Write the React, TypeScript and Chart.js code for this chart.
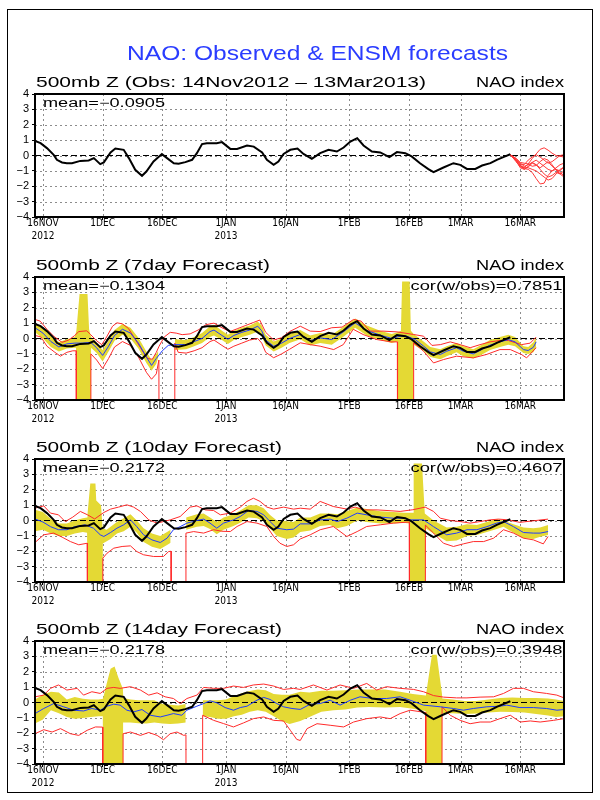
import React, { useEffect, useRef } from 'react';
import { Chart, registerables } from 'chart.js';

Chart.register(...registerables);

type Pt = [number, number | null];

// ---------- axis labels ----------
const tickDays = [2, 17, 32, 48, 63, 79, 94, 107, 122];
const tickNames = ['16NOV', '1DEC', '16DEC', '1JAN', '16JAN', '1FEB', '16FEB', '1MAR', '16MAR'];
const tickYears = ['2012', '', '', '2013', '', '', '', '', ''];

// ---------- observed NAO (day 0 = 14 Nov 2012) ----------
const obsNAO: Pt[] = [[0,0.95],[1.4,0.8],[3,0.48],[4.7,0.04],[5.5,-0.28],[6.8,-0.45],[8,-0.5],[9.3,-0.5],[11.4,-0.35],[13.5,-0.32],[14.8,-0.17],[16.4,-0.56],[17.3,-0.45],[19,0.2],[20.2,0.45],[22.3,0.37],[23.6,-0.17],[25.2,-0.93],[26.9,-1.32],[28,-1.04],[29.8,-0.39],[31.9,0.09],[33.2,-0.17],[34.9,-0.5],[36.1,-0.54],[37.8,-0.43],[39.5,-0.28],[40.7,0.15],[42,0.74],[43.2,0.8],[45.7,0.8],[47,0.87],[49.1,0.43],[50.8,0.43],[53.3,0.65],[55,0.58],[57.1,0.2],[58.3,-0.28],[60,-0.6],[61.2,-0.39],[62.5,0.1],[64.2,0.37],[66,0.45],[67.5,0.1],[69.6,-0.22],[71.7,0.15],[73.8,0.37],[75.9,0.26],[77.6,0.52],[79.3,0.91],[81,1.13],[82.6,0.65],[84.7,0.26],[86.8,0.2],[89.1,-0.1],[91,0.22],[93.1,0.15],[94.7,-0.06],[96.8,-0.5],[98.9,-0.89],[100.2,-1.08],[102.7,-0.78],[105.2,-0.5],[106.9,-0.61],[108.6,-0.87],[110.7,-0.87],[112.4,-0.65],[114.5,-0.5],[116.1,-0.28],[118.2,-0.06],[119.5,0.08]];

const zeroLine: Pt[] = [[0, 0], [133, 0]];

// ---------- ensemble members after 13 Mar ----------
const ensDays = [119.5, 121, 122, 123, 124, 125, 126, 127, 128, 129, 130, 131, 132, 133];
const ens1 = [0.05, -0.4, -0.75, -0.8, -0.55, -0.2, 0.1, 0.4, 0.5, 0.35, 0.15, 0.0, -0.05, -0.1];
const ens2 = [0.05, -0.3, -0.6, -0.85, -0.9, -1.1, -1.5, -1.85, -1.8, -1.3, -1.0, -0.9, -1.1, -1.3];
const ens3 = [0.05, -0.2, -0.5, -0.7, -0.6, -0.45, -0.3, -0.5, -0.7, -0.9, -1.0, -0.8, -0.6, -0.5];
const ens4 = [0.05, -0.35, -0.8, -0.9, -0.75, -0.5, -0.6, -0.9, -1.2, -1.4, -1.3, -1.1, -1.2, -1.4];
const ens5 = [0.05, -0.25, -0.55, -0.6, -0.3, -0.1, 0.05, -0.1, -0.3, -0.5, -0.4, -0.2, 0.0, 0.05];
const ens6 = [0.05, -0.4, -0.7, -0.75, -0.8, -0.9, -1.0, -1.2, -1.4, -1.6, -1.5, -1.2, -0.9, -0.8];
const ens7 = [0.05, -0.3, -0.65, -0.9, -0.7, -0.45, -0.6, -0.8, -0.6, -0.4, -0.7, -0.9, -1.0, -0.7];
const ens8 = [0.05, -0.2, -0.45, -0.5, -0.55, -0.7, -0.65, -0.4, -0.2, -0.3, -0.6, -0.95, -1.2, -1.0];

// ---------- 7-day forecast ----------
const p2Mean: Pt[] = [[0,0.7],[2,0.35],[4,-0.2],[6,-0.55],[8,-0.35],[10,-0.3],[12,-0.3],[14,-0.25],[15.5,-0.6],[17,-1.1],[18.5,-0.5],[20,0.2],[22,0.6],[24,0.35],[26,-0.3],[28,-1.2],[29.3,-1.75],[30.5,-1.3],[32,-0.8],[33.5,-0.45],[35,-0.4],[38,-0.4],[40,-0.2],[42,0.0],[44,0.45],[45,0.55],[47,0.2],[48.5,-0.05],[50,0.2],[52,0.4],[54,0.55],[56,0.8],[57,0.5],[58,-0.1],[60,-0.5],[62,-0.3],[64,0.0],[66.7,0.26],[69.2,-0.13],[71.7,0.04],[74.6,-0.07],[77.2,0.37],[80.5,1.02],[83.4,0.52],[86.8,0.22],[89.7,0.0],[91.8,0.15],[93.5,0.15],[95.6,-0.07],[97.7,-0.5],[99.4,-0.87],[101.9,-1.04],[103.5,-0.83],[106,-0.6],[107.7,-0.83],[110.2,-1.0],[112.3,-0.72],[114.4,-0.43],[116.9,-0.22],[119,-0.07],[120.7,-0.22],[122.8,-0.72],[124,-0.78],[125.3,-0.57],[126,-0.22]];
const p2BandHi: Pt[] = [[0,1.0],[2,0.7],[4,0.15],[6,-0.25],[8,-0.05],[10,0.1],[10.4,0.5],[11.2,2.9],[13.2,2.9],[13.6,0.6],[14.1,0.1],[15.5,-0.3],[17,-0.75],[18.5,-0.15],[20,0.55],[22,0.95],[24,0.7],[26,0.05],[28,-0.85],[29.3,-1.4],[30.5,-1.0],[31,-0.8],[31.05,null],[35.1,null],[35.15,-0.05],[38,-0.1],[40,0.1],[42,0.35],[44,0.8],[45,0.9],[47,0.5],[48.5,0.25],[50,0.5],[52,0.7],[54,0.85],[56,1.1],[57,0.85],[58,0.25],[60,-0.2],[62,0.0],[64,0.3],[66.7,0.55],[69.2,0.2],[71.7,0.35],[74.6,0.25],[77.2,0.7],[80.5,1.3],[83.4,0.85],[86.8,0.5],[89.7,0.3],[91.1,0.4],[92,0.5],[92.3,3.7],[94.2,3.7],[94.5,0.5],[95.2,0.3],[97.7,-0.2],[99.4,-0.55],[101.9,-0.7],[103.5,-0.5],[106,-0.3],[107.7,-0.5],[110.2,-0.7],[112.3,-0.4],[114.4,-0.1],[116.9,0.1],[119,0.25],[120.7,0.1],[122.8,-0.5],[124,-0.55],[125.3,-0.25],[126,0.1]];
const p2BandLo: Pt[] = [[0,0.4],[2,0.0],[4,-0.55],[6,-0.85],[8,-0.65],[10,-0.6],[10.3,-0.6],[10.4,-10],[14,-10],[14.1,-0.6],[15.5,-0.95],[17,-1.5],[18.5,-0.85],[20,-0.15],[22,0.25],[24,0.0],[26,-0.65],[28,-1.6],[29.3,-2.1],[30.5,-1.65],[31,-1.2],[31.05,null],[35.1,null],[35.15,-0.75],[38,-0.7],[40,-0.5],[42,-0.3],[44,0.1],[45,0.2],[47,-0.1],[48.5,-0.35],[50,-0.1],[52,0.1],[54,0.25],[56,0.45],[57,0.15],[58,-0.45],[60,-0.85],[62,-0.6],[64,-0.3],[66.7,-0.05],[69.2,-0.45],[71.7,-0.3],[74.6,-0.4],[77.2,0.05],[80.5,0.7],[83.4,0.2],[86.8,-0.1],[89.7,-0.3],[91.1,-0.2],[91.15,-10],[95.15,-10],[95.2,-0.4],[97.7,-0.8],[99.4,-1.2],[101.9,-1.35],[103.5,-1.15],[106,-0.9],[107.7,-1.15],[110.2,-1.3],[112.3,-1.05],[114.4,-0.75],[116.9,-0.55],[119,-0.4],[120.7,-0.5],[122.8,-0.95],[124,-1.0],[125.3,-0.9],[126,-0.55]];
const p2RedHi: Pt[] = [[0,1.24],[1.3,1.13],[3,0.6],[4.7,0.15],[6.8,-0.25],[8.5,-0.1],[10,0.2],[11,0.45],[13,0.5],[14,0.25],[15.5,-0.15],[16.8,-0.4],[18,0.1],[19.5,0.8],[20.6,1.02],[22,0.95],[23.5,0.65],[25.2,-0.05],[27,-0.8],[28.3,-1.3],[29.5,-1.35],[30.5,-0.9],[31.2,-0.5],[32.5,0.1],[34,0.4],[35.5,0.35],[37,0.25],[39,0.3],[41,0.55],[43,0.9],[45,1.0],[47,0.7],[49,0.45],[51,0.65],[53,0.85],[55,1.05],[56.5,1.2],[58,0.4],[60,-0.1],[62,0.05],[64,0.45],[66.7,0.8],[69.2,0.48],[71.7,0.45],[74.6,0.7],[77.2,0.74],[80.1,1.24],[82,1.13],[84.2,0.48],[87.5,0.48],[91,0.43],[95.2,0.26],[97.7,0.15],[99.8,-0.45],[101.9,-0.4],[104.4,-0.22],[106.9,-0.4],[109.4,-0.6],[111.9,-0.4],[114.4,-0.22],[116.9,-0.13],[119,-0.13],[122.3,-0.4],[124.5,-0.3],[126,0.09]];
const p2RedLo: Pt[] = [[0,0.2],[1.5,0.1],[3,-0.5],[5,-0.9],[6.4,-1.15],[8,-0.9],[9.5,-0.8],[10.35,-0.8],[10.4,-10],[14,-10],[14.05,-1.0],[15.5,-1.4],[17,-1.95],[18.5,-1.3],[20,-0.55],[22,-0.2],[24,-0.45],[26,-1.2],[28,-2.2],[29.3,-2.65],[30.5,-2.3],[31.15,-1.4],[31.2,-10],[35.1,-10],[35.15,-0.3],[36,-0.9],[38,-0.95],[40,-0.8],[42,-0.6],[44,-0.2],[45,-0.1],[47,-0.45],[48.5,-0.7],[50,-0.5],[52,-0.3],[54,-0.1],[56,0.0],[57,-0.3],[58,-0.9],[60,-1.25],[62,-1.0],[64,-0.7],[66.7,-0.28],[69.2,-0.4],[71.7,-0.5],[75.1,-0.72],[77.5,-0.4],[80,0.6],[82.5,0.26],[86,-0.07],[89.5,-0.22],[91.1,-0.22],[91.15,-10],[95.15,-10],[95.2,-0.28],[97.7,-0.83],[100.2,-1.59],[102.7,-1.37],[106,-1.15],[110.2,-1.26],[113.5,-1.04],[116.9,-0.72],[119.5,-0.72],[122.3,-1.04],[123.6,-1.26],[126,-0.6]];

// ---------- 10-day forecast ----------
const p3Mean: Pt[] = [[0,0.1],[2,-0.1],[3.9,-0.4],[5.9,-0.6],[8,-0.6],[10,-0.4],[12.6,-0.28],[14.7,-0.5],[16.4,-0.93],[17.3,-1.04],[19,-0.78],[20.6,-0.5],[22.3,-0.28],[24,0.04],[25.6,-0.4],[27.3,-0.93],[29.4,-1.26],[31.5,-1.43],[33.2,-1.15],[34.8,-0.6],[36.5,-0.4],[38.2,-0.17],[40.7,0.0],[42.4,0.09],[44,-0.17],[45.7,-0.5],[47.4,-0.17],[49.9,0.04],[51.6,0.26],[53.7,0.65],[55.8,0.59],[57.5,0.37],[59.1,-0.07],[60.8,-0.5],[63.3,-0.6],[65,-0.56],[66.7,-0.22],[69.2,-0.22],[71.7,0.04],[74.2,0.09],[76,-0.07],[78.4,0.15],[81,0.48],[83.4,0.37],[86.8,0.22],[90.1,0.15],[92.6,0.15],[94.3,0.04],[97.7,0.04],[100.2,-0.4],[103.5,-0.93],[106,-0.82],[108.6,-0.6],[111.1,-0.6],[113.6,-0.4],[116.1,-0.17],[117.8,-0.07],[120.3,-0.4],[122.8,-0.78],[125.3,-0.82],[127,-0.82],[129,-0.72]];
const p3BandHi: Pt[] = [[0,0.7],[2,0.55],[4,0.1],[6,-0.2],[8,-0.2],[10,0.0],[12,0.15],[13.1,0.2],[13.2,0.4],[13.9,2.4],[15.2,2.4],[15.4,1.3],[16.6,1.0],[17,-0.5],[18,-0.6],[19,-0.4],[20.6,-0.1],[22.3,0.15],[24,0.4],[25.6,0.0],[27.3,-0.5],[29.4,-0.85],[31.5,-1.0],[33.2,-0.75],[34.1,-0.6],[34.15,null],[37.9,null],[38,0.2],[40.7,0.4],[42.4,0.45],[44,0.2],[45.7,-0.1],[47.4,0.2],[49.9,0.4],[51.6,0.65],[53.7,1.0],[55.8,1.0],[57.5,0.8],[59.1,0.35],[60.8,0.0],[63.3,-0.05],[65,-0.1],[66.7,0.2],[69.2,0.2],[71.7,0.45],[74.2,0.45],[76,0.4],[78.4,0.6],[81,0.85],[83.4,0.75],[86.8,0.6],[90.1,0.55],[92.6,0.5],[95.1,0.5],[95.2,3.7],[97.3,3.7],[98,0.45],[100.2,0.0],[103.5,-0.45],[106,-0.4],[108.6,-0.25],[111.1,-0.3],[113.6,-0.1],[116.1,0.1],[117.8,0.0],[120.3,-0.25],[122.8,-0.45],[125.3,-0.5],[127,-0.45],[129,-0.3]];
const p3BandLo: Pt[] = [[0,-0.7],[2,-0.6],[4,-0.85],[6,-1.0],[8,-1.0],[10,-0.85],[12,-0.75],[13.1,-0.8],[13.2,-10],[17,-10],[17.05,-1.5],[19,-1.2],[20.6,-0.85],[22.3,-0.7],[24,-0.4],[25.6,-0.8],[27.3,-1.4],[29.4,-1.7],[31.5,-1.85],[33.2,-1.6],[34.1,-1.45],[34.15,null],[37.9,null],[38,-0.6],[40.7,-0.4],[42.4,-0.35],[44,-0.55],[45.7,-0.9],[47.4,-0.6],[49.9,-0.35],[51.6,-0.15],[53.7,0.2],[55.8,0.15],[57.5,-0.05],[59.1,-0.5],[60.8,-1.0],[63.3,-1.2],[65,-1.1],[66.7,-0.75],[69.2,-0.65],[71.7,-0.35],[74.2,-0.3],[76,-0.5],[78.4,-0.35],[81,0.0],[83.4,-0.1],[86.8,-0.2],[90.1,-0.2],[92.6,-0.15],[94.1,-0.2],[94.2,-10],[98.1,-10],[98.15,-0.5],[100.2,-0.85],[103.5,-1.35],[106,-1.3],[108.6,-1.0],[111.1,-0.95],[113.6,-0.75],[116.1,-0.55],[117.8,-0.4],[120.3,-0.8],[122.8,-1.15],[125.3,-1.2],[127,-1.05],[129,-0.95]];
const p3RedHi: Pt[] = [[0,0.8],[2.2,0.95],[3.9,0.48],[5.9,0.37],[7.6,-0.07],[9.5,0.22],[11.4,0.59],[13.2,0.37],[15,0.1],[17.3,0.52],[19,0.74],[21,0.87],[23.1,1.02],[24.8,0.87],[26.5,0.59],[28.6,0.04],[30.7,-0.17],[32.3,-0.07],[34,0.04],[36.5,0.26],[39,0.87],[40.7,0.95],[42.8,0.69],[44.9,0.65],[46.6,0.37],[49.1,0.48],[51.6,0.87],[53.3,1.24],[54.9,1.45],[56.6,1.24],[58.3,0.87],[60,0.74],[62.5,0.87],[65,0.74],[66.7,0.8],[69.2,0.74],[71.7,1.24],[75,0.91],[78.4,0.74],[80.5,0.87],[82.6,0.69],[86,0.69],[88.5,0.65],[91.8,0.59],[95,0.7],[98.1,0.87],[100.2,0.59],[101.9,0.15],[104.4,0.0],[106.9,-0.07],[109.4,-0.17],[111.9,-0.07],[114.4,0.04],[116.5,0.09],[118.6,0.05],[121.9,-0.12],[125.3,-0.02],[129,0.09]];
const p3RedLo: Pt[] = [[0,-1.43],[2.2,-0.93],[4.7,-0.82],[6.8,-1.08],[8.9,-1.37],[11,-1.58],[13.1,-1.48],[13.2,-10],[17,-10],[17.05,-2.45],[18.1,-2.13],[19.8,-1.8],[21.9,-1.69],[24,-1.65],[25.6,-2.02],[27.3,-2.23],[29.8,-2.34],[32.3,-2.34],[33.6,-2.02],[34.2,-2.0],[34.25,-10],[37.9,-10],[37.95,-0.82],[39.9,-0.72],[42.4,-0.82],[44.9,-0.6],[47,-0.7],[49.1,-0.72],[50.8,-0.39],[53.3,-0.07],[55.8,-0.17],[58.3,-0.39],[60,-1.04],[61.6,-1.48],[63.3,-1.69],[65,-1.58],[66.7,-1.2],[69.2,-0.93],[71.7,-0.6],[75,-0.39],[78.4,-1.04],[81,-0.72],[83.4,-0.39],[86.8,-0.28],[90.1,-0.17],[94.1,-0.1],[94.15,-10],[98.1,-10],[98.15,-0.3],[100.2,-0.82],[102.7,-1.48],[105.2,-1.69],[107.7,-1.52],[110.2,-1.37],[112.8,-1.37],[115.3,-1.15],[117.8,-0.6],[120.3,-0.82],[122.8,-1.15],[125.3,-1.26],[127.8,-1.52],[129,-1.04]];

// ---------- 14-day forecast ----------
const p4Mean: Pt[] = [[0,-0.72],[2.2,-0.39],[4.7,-0.07],[7.2,-0.28],[9.7,-0.5],[12.2,-0.55],[14.3,-0.39],[16.4,-0.5],[18.1,-0.24],[19.8,-0.11],[21.4,-0.17],[23.1,-0.5],[24.8,-0.61],[26.9,-0.46],[29,-0.83],[31.5,-0.94],[33.2,-0.83],[34.8,-0.72],[36.9,-0.83],[38.2,-0.5],[40.7,-0.24],[42.4,-0.07],[44,0.11],[45.7,-0.02],[47.8,-0.33],[49.9,-0.5],[51.6,-0.33],[53.3,-0.24],[55.8,0.15],[57.5,0.33],[59.1,0.2],[60.8,-0.07],[62.5,-0.28],[64.6,-0.39],[66.7,-0.45],[69.2,-0.11],[71.7,-0.07],[74.2,0.15],[76.7,-0.17],[79.3,0.15],[81.7,0.37],[85.1,0.26],[88.4,0.26],[91.8,0.37],[94.3,0.15],[97.7,-0.17],[101.9,-0.28],[105.2,-0.39],[107.7,-0.5],[110.2,-0.39],[113.6,-0.28],[116.9,-0.24],[118.6,-0.17],[121.9,-0.33],[125.3,-0.33],[128.6,-0.39],[131.2,-0.5],[133,-0.46]];
const p4BandHi: Pt[] = [[0,0.2],[2,0.5],[4,0.7],[6,0.65],[8,0.2],[10,0.35],[12,0.25],[14,0.2],[16,0.2],[17.1,0.25],[18,1.2],[19,2.2],[20,2.34],[21,1.6],[22.1,0.9],[22.2,0.3],[24,0.2],[26,0.15],[28,0.15],[30,0.15],[32,-0.1],[34,-0.15],[36,-0.2],[37.9,-0.1],[37.95,null],[42.1,null],[42.15,0.15],[44,0.15],[46,0.15],[48,0.2],[50,0.4],[52,0.6],[54,0.75],[56,0.85],[58,0.8],[60,0.55],[62,0.5],[64,0.5],[66.7,0.7],[69,0.65],[72,0.76],[75,0.76],[78,0.8],[81,0.85],[84,0.85],[88,0.85],[91.8,0.7],[95,0.55],[98.2,0.45],[98.3,0.5],[99.8,3.1],[101,3.1],[102.3,0.6],[102.4,0.26],[105,0.2],[108,0.1],[111,0.1],[114,0.2],[117,0.3],[120,0.33],[123,0.3],[126,0.3],[129,0.26],[131,0.2],[133,0.1]];
const p4BandLo: Pt[] = [[0,-1.37],[2,-1.1],[4,-0.5],[6,-0.7],[8,-0.95],[10,-1.05],[12,-1.0],[14,-0.95],[16,-0.9],[17.05,-0.9],[17.1,-10],[22.1,-10],[22.15,-1.3],[24,-1.3],[26,-1.35],[28,-1.37],[30,-1.3],[32,-1.37],[34,-1.4],[36,-1.37],[37.9,-1.3],[37.95,null],[42.1,null],[42.15,-0.9],[44,-0.95],[46,-1.05],[48,-1.05],[50,-0.9],[52,-0.8],[54,-0.6],[56,-0.5],[58,-0.6],[60,-0.9],[62,-1.2],[64,-1.4],[66.7,-1.2],[69,-0.94],[72,-0.6],[75,-0.5],[78,-0.45],[81,-0.33],[84,-0.3],[88,-0.33],[91.8,-0.3],[95,-0.4],[98.2,-0.55],[98.25,-10],[102.3,-10],[102.35,-0.72],[105,-0.7],[108,-0.75],[111,-0.72],[114,-0.65],[117,-0.6],[120,-0.61],[123,-0.65],[126,-0.75],[129,-0.85],[131,-0.94],[133,-0.9]];
const p4RedHi: Pt[] = [[0,0.37],[2.2,0.48],[3.9,0.92],[5.9,1.14],[8,0.81],[10.6,0.92],[12.2,0.48],[14.3,0.7],[16.4,0.59],[18.1,0.92],[19.8,0.98],[21.4,0.92],[24,1.03],[26.5,0.81],[28.6,0.48],[30.7,0.63],[32.7,0.37],[34.8,0.26],[36.5,-0.07],[38.2,0.26],[40.7,0.48],[42.4,0.98],[44.9,0.92],[47.4,0.92],[49.9,1.07],[52.4,0.98],[54.9,1.14],[57.5,1.2],[60,1.07],[62.5,0.85],[65,0.92],[66.7,0.85],[70,1.14],[73.4,0.81],[76.7,1.14],[80.1,0.92],[83.4,1.24],[85.9,0.81],[88.4,1.03],[91.8,0.92],[95.2,0.85],[97.7,0.7],[100.2,0.45],[102.7,0.35],[106,0.3],[108.6,0.3],[111.9,0.35],[115.3,0.37],[117.8,0.59],[120.3,0.92],[122.8,0.92],[125.3,0.7],[128.6,0.59],[131.2,0.48],[133,0.3]];
const p4RedLo: Pt[] = [[0,-2.03],[2.2,-1.77],[4.3,-1.92],[6.4,-1.7],[8.9,-2.03],[11,-2.14],[13.1,-1.81],[15.2,-1.59],[17,-1.6],[17.05,-10],[22.1,-10],[22.15,-2.03],[24,-1.92],[26.5,-2.14],[28.6,-1.95],[30.7,-2.14],[32.3,-2.42],[34,-2.03],[35.7,-1.92],[37.4,-2.14],[37.95,-2.1],[38,-10],[42.1,-10],[42.15,-0.83],[44.9,-1.16],[47.4,-1.37],[49.9,-1.59],[52.4,-1.33],[54.9,-1.05],[57.5,-0.94],[60,-1.16],[62.5,-1.2],[64.2,-1.81],[65.8,-2.4],[66.7,-2.47],[68.4,-1.7],[70.9,-1.38],[74.2,-1.48],[77.6,-1.59],[80.1,-1.27],[83.4,-1.05],[86.8,-0.94],[89.3,-1.05],[91.8,-0.72],[94.3,-0.5],[98.2,-0.65],[98.25,-10],[102.3,-10],[102.35,-0.28],[104.4,-0.83],[106.9,-1.16],[109.4,-1.38],[111.9,-1.27],[114.5,-1.27],[116.9,-1.05],[119.5,-0.83],[122,-1.27],[124.5,-1.2],[127,-1.27],[130.4,-1.16],[133,-1.05]];

// ---------- styling ----------
const BLACK = '#000000';
const BLUE = '#1f3cff';
const RED = '#ff2a2a';
const YELLOW = '#e4d934';
const GRID = '#8c8c8c';
const TITLE_BLUE = '#2a3cff';
const FONT = '"Liberation Sans", "DejaVu Sans", sans-serif';
const TICK_FONT = '"Liberation Sans Narrow", "DejaVu Sans Condensed", "Liberation Sans", sans-serif';
const PLOT_H = 123;

const toXY = (a: Pt[]) => a.map(([x, y]) => ({ x, y }));

function lineDs(data: Pt[], color: string, width: number, order: number, extra: any = {}) {
  return {
    data: toXY(data), borderColor: color, borderWidth: width, pointRadius: 0,
    tension: 0, fill: false, order, spanGaps: false, ...extra,
  };
}

function obsPanel() {
  const members = [ens1, ens2, ens3, ens4, ens5, ens6, ens7, ens8];
  return [
    lineDs(obsNAO, BLACK, 2, 0),
    lineDs(zeroLine, BLACK, 1, 3, { borderDash: [6, 3] }),
    ...members.map((m) => lineDs(ensDays.map((d, i) => [d, m[i]] as Pt), '#ff3838', 1, 2)),
  ];
}

function forecastPanel(mean: Pt[], hi: Pt[], lo: Pt[], rhi: Pt[], rlo: Pt[]) {
  return [
    lineDs(obsNAO, BLACK, 2, 0),
    lineDs(mean, BLUE, 1, 1),
    lineDs(rhi, RED, 1, 2),
    lineDs(rlo, RED, 1, 2),
    lineDs(zeroLine, BLACK, 1, 3, { borderDash: [6, 3] }),
    lineDs(hi, 'rgba(0,0,0,0)', 1, 4, { fill: '+1', backgroundColor: YELLOW }),
    lineDs(lo, 'rgba(0,0,0,0)', 1, 4),
  ];
}

function fitText(ctx: CanvasRenderingContext2D, text: string, x: number, y: number, width: number,
  align: 'left' | 'right' | 'center', font: string, color: string) {
  ctx.save();
  ctx.font = font;
  ctx.fillStyle = color;
  ctx.textAlign = 'left';
  ctx.textBaseline = 'alphabetic';
  const w = ctx.measureText(text).width;
  const sx = width / w;
  const x0 = align === 'left' ? x : align === 'right' ? x - width : x - width / 2;
  ctx.translate(x0, y);
  ctx.scale(sx, 1);
  ctx.fillText(text, 0, 0);
  ctx.restore();
}

const decoPlugin = {
  id: 'deco',
  beforeDatasetsDraw(chart: any) {
    // dotted grid drawn from the library's own scales
    const { ctx, chartArea: a, scales } = chart;
    ctx.save();
    ctx.strokeStyle = GRID;
    ctx.lineWidth = 1;
    ctx.setLineDash([2, 3]);
    scales.x.ticks.forEach((t: any) => {
      const px = Math.round(scales.x.getPixelForValue(t.value)) + 0.5;
      ctx.beginPath(); ctx.moveTo(px, a.top); ctx.lineTo(px, a.bottom); ctx.stroke();
    });
    scales.y.ticks.forEach((t: any) => {
      const py = Math.round(scales.y.getPixelForValue(t.value)) + 0.5;
      ctx.beginPath(); ctx.moveTo(a.left, py); ctx.lineTo(a.right, py); ctx.stroke();
    });
    ctx.restore();
  },
  afterDatasetsDraw(chart: any, _args: any, o: any) {
    const { ctx, chartArea: a } = chart;
    ctx.save();
    ctx.setLineDash([]);
    ctx.strokeStyle = '#000';
    ctx.lineWidth = 2;
    ctx.strokeRect(a.left, a.top, a.right - a.left, a.bottom - a.top);
    ctx.restore();
    fitText(ctx, o.title, a.left + 1, a.top - 7, o.titleW, 'left', `14px ${FONT}`, '#000');
    fitText(ctx, 'NAO index', a.right, a.top - 7, 88, 'right', `14px ${FONT}`, '#000');
    fitText(ctx, o.mean, a.left + 8, a.top + 13, 122, 'left', `12px ${FONT}`, '#000');
    if (o.cor) fitText(ctx, o.cor, a.right - 1.5, a.top + 13, 152, 'right', `12px ${FONT}`, '#000');
    if (o.main) fitText(ctx, o.main, 317.5, 60, 381, 'center', `21px ${FONT}`, TITLE_BLUE);
  },
};

const tickLabel = (v: number) => {
  const i = tickDays.indexOf(v);
  if (i < 0) return '';
  return tickYears[i] ? [tickNames[i], tickYears[i]] : tickNames[i];
};

const PANELS = [
  { top: 0, height: 244, padTop: 94, title: '500mb Z (Obs: 14Nov2012 \u2013 13Mar2013)', titleW: 390,
    mean: 'mean=\u22120.0905', cor: '', main: 'NAO: Observed & ENSM forecasts', make: () => obsPanel() },
  { top: 247, height: 180, padTop: 30, title: '500mb Z (7day Forecast)', titleW: 234,
    mean: 'mean=\u22120.1304', cor: 'cor(w/obs)=0.7851', main: '',
    make: () => forecastPanel(p2Mean, p2BandHi, p2BandLo, p2RedHi, p2RedLo) },
  { top: 429, height: 180, padTop: 30, title: '500mb Z (10day Forecast)', titleW: 246,
    mean: 'mean=\u22120.2172', cor: 'cor(w/obs)=0.4607', main: '',
    make: () => forecastPanel(p3Mean, p3BandHi, p3BandLo, p3RedHi, p3RedLo) },
  { top: 611, height: 180, padTop: 30, title: '500mb Z (14day Forecast)', titleW: 246,
    mean: 'mean=\u22120.2178', cor: 'cor(w/obs)=0.3948', main: '',
    make: () => forecastPanel(p4Mean, p4BandHi, p4BandLo, p4RedHi, p4RedLo) },
];

function buildConfig(p: any): any {
  const grid = { drawOnChartArea: false, color: GRID, tickColor: '#000', tickLength: 3, lineWidth: 1 };
  const border = { color: '#000', width: 2 };
  return {
    type: 'line',
    data: { datasets: p.make() },
    options: {
      responsive: false,
      animation: false,
      devicePixelRatio: 1,
      events: [],
      layout: { padding: { top: p.padTop, right: 36, left: 0, bottom: 0 } },
      plugins: {
        legend: { display: false },
        tooltip: { enabled: false },
        deco: { title: p.title, titleW: p.titleW, mean: p.mean, cor: p.cor, main: p.main },
      },
      scales: {
        x: {
          type: 'linear', min: 0, max: 133,
          afterBuildTicks: (s: any) => { s.ticks = tickDays.map((v) => ({ value: v })); },
          afterFit: (s: any) => { s.height = p.height - p.padTop - PLOT_H; },
          ticks: {
            autoSkip: false, maxRotation: 0, minRotation: 0, padding: -3, color: '#000',
            font: { family: TICK_FONT, size: 10, lineHeight: 1.3 },
            callback: (v: any) => tickLabel(Number(v)),
          },
          grid, border,
        },
        y: {
          min: -4, max: 4,
          afterFit: (s: any) => { s.width = 35; },
          ticks: {
            stepSize: 1, padding: 3, color: '#000', autoSkip: false,
            font: { family: FONT, size: 11, lineHeight: 1 },
            callback: (v: any) => (Number(v) < 0 ? '\u2212' + Math.abs(Number(v)) : String(v)),
          },
          grid, border,
        },
      },
    },
    plugins: [decoPlugin],
  };
}

export default function App() {
  const r0 = useRef<HTMLCanvasElement>(null);
  const r1 = useRef<HTMLCanvasElement>(null);
  const r2 = useRef<HTMLCanvasElement>(null);
  const r3 = useRef<HTMLCanvasElement>(null);
  const refs = [r0, r1, r2, r3];

  useEffect(() => {
    const charts = PANELS.map((p, i) => new Chart(refs[i].current as HTMLCanvasElement, buildConfig(p)));
    return () => charts.forEach((c) => c.destroy());
  }, []);

  return (
    <div style={{ position: 'absolute', left: 0, top: 0, width: 600, height: 800, background: '#fff' }}>
      <div style={{ position: 'absolute', left: 7, top: 9, width: 584, height: 782, border: '1px solid #000' }} />
      {PANELS.map((p, i) => (
        <canvas key={i} ref={refs[i]} width={600} height={p.height}
          style={{ position: 'absolute', left: 0, top: p.top, width: 600, height: p.height, display: 'block' }} />
      ))}
    </div>
  );
}
